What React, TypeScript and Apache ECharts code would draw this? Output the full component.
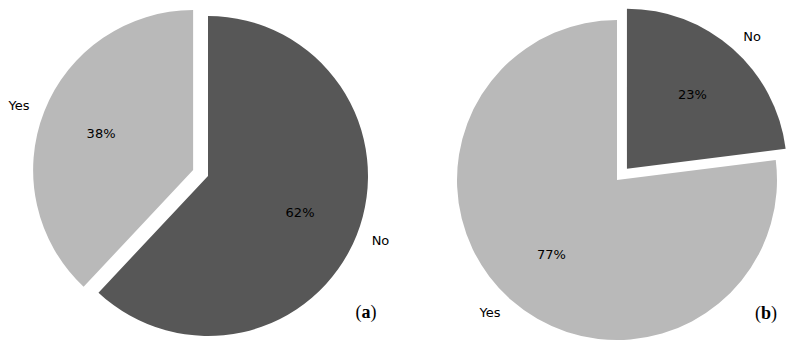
import React, { useEffect, useRef } from "react";
import * as echarts from "echarts";

const categories = ["No", "Yes"];
const valuesA = [62, 38];
const valuesB = [23, 77];
const explodedA = "Yes";
const explodedB = "No";
const panelLabels = ["a", "b"];

const DARK = "#575757";
const LIGHT = "#b9b9b9";
const colors = [DARK, LIGHT];
const FONT = "DejaVu Sans";

function makePie(
  id: string,
  values: number[],
  exploded: string,
  center: [number, number],
  r: number,
  offset: number
): any[] {
  const mk = (transparent: boolean) =>
    categories.map((name, i) => ({
      name,
      value: values[i],
      selected: name === exploded,
      itemStyle: {
        color: transparent ? "rgba(0,0,0,0)" : colors[i],
        borderWidth: 0,
      },
      select: {
        itemStyle: {
          color: transparent ? "rgba(0,0,0,0)" : colors[i],
          borderWidth: 0,
        },
      },
    }));
  const labelR = Math.round(r * 1.1);
  const pctR = Math.round(r * 0.6);
  return [
    {
      id: id + "-main",
      type: "pie",
      center,
      radius: [0, r],
      startAngle: 90,
      clockwise: true,
      selectedMode: "multiple",
      selectedOffset: offset,
      avoidLabelOverlap: false,
      silent: true,
      emphasis: { disabled: true },
      data: mk(false),
      label: {
        show: true,
        position: "outside",
        formatter: "{b}",
        color: "#000",
        fontFamily: FONT,
        fontSize: 13,
        distanceToLabelLine: 0,
      },
      labelLine: { show: false, length: labelR - r, length2: 0 },
      z: 2,
    },
    {
      id: id + "-pct",
      type: "pie",
      center,
      radius: [0, pctR * 2],
      startAngle: 90,
      clockwise: true,
      selectedMode: "multiple",
      selectedOffset: offset,
      avoidLabelOverlap: false,
      silent: true,
      emphasis: { disabled: true },
      data: mk(true),
      label: {
        show: true,
        position: "inside",
        formatter: (p: any) => p.value + "%",
        color: "#000",
        fontFamily: FONT,
        fontSize: 13,
      },
      labelLine: { show: false },
      z: 3,
    },
  ];
}

export default function App() {
  const ref = useRef<HTMLDivElement>(null);
  useEffect(() => {
    if (!ref.current) return;
    const chart = echarts.init(ref.current, undefined, { renderer: "svg" });
    const panelText = (letter: string, x: number, y: number) => ({
      type: "text",
      x,
      y,
      style: {
        text: "{p|(}{l|" + letter + "}{p|)}",
        align: "center",
        verticalAlign: "middle",
        rich: {
          p: { fontFamily: "Liberation Serif", fontSize: 18, fill: "#000" },
          l: {
            fontFamily: "Liberation Serif",
            fontSize: 18,
            fontWeight: "bold",
            fill: "#000",
          },
        },
      },
    });
    chart.setOption({
      animation: false,
      backgroundColor: "#ffffff",
      series: [
        ...makePie("a", valuesA, explodedA, [208, 176], 160, 16),
        ...makePie("b", valuesB, explodedB, [617, 180], 160, 15),
      ],
      graphic: [
        panelText(panelLabels[0], 366, 312),
        panelText(panelLabels[1], 766, 313),
      ],
    });
    return () => chart.dispose();
  }, []);
  return (
    <div
      ref={ref}
      style={{ position: "fixed", left: 0, top: 0, width: 798, height: 346 }}
    />
  );
}
